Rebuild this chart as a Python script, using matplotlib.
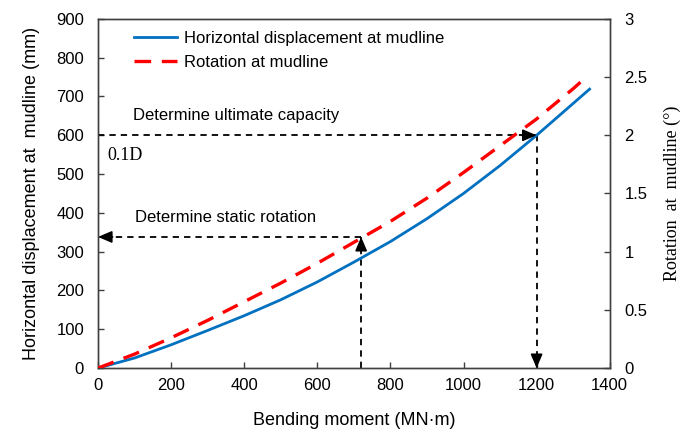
import matplotlib.pyplot as plt
import numpy as np

plt.rcParams['font.family'] = ['Liberation Sans', 'DejaVu Sans']
plt.rcParams['font.size'] = 12

# horizontal displacement at mudline (mm) vs bending moment (MN.m)
moment_disp = [0, 100, 200, 300, 400, 500, 600, 700, 800, 900, 1000, 1100, 1200, 1300, 1345]
disp = [0, 26, 60, 97, 135, 176, 222, 273, 326, 385, 450, 522, 600, 682, 719]

# rotation at mudline (deg)
moment_rot = [0, 100, 200, 300, 400, 500, 600, 700, 800, 900, 1000, 1100, 1200, 1300, 1325]
rot = [0, 0.12, 0.26, 0.41, 0.57, 0.73, 0.9, 1.08, 1.26, 1.46, 1.68, 1.91, 2.14, 2.4, 2.47]

# guide lines
m_ult, d_ult = 1200, 600
m_static, d_static = 720, 338

fig = plt.figure(figsize=(7, 4.29), dpi=100)
ax = fig.add_axes([0.14, 0.142, 0.731, 0.814])
ax2 = ax.twinx()

l1, = ax.plot(moment_disp, disp, color='#0070C0', lw=2.0, zorder=3,
              label='Horizontal displacement at mudline')
l2, = ax2.plot(moment_rot, rot, color='#FF0000', lw=2.4, dashes=(5, 3.2), zorder=3,
               label='Rotation at mudline')

dk = dict(color='black', lw=1.3, dashes=(3.5, 2.8), zorder=2)
ax.plot([0, m_ult], [d_ult, d_ult], **dk)
ax.plot([m_ult, m_ult], [d_ult, 0], **dk)
ax.plot([m_static, m_static], [0, d_static], **dk)
ax.plot([m_static, 0], [d_static, d_static], **dk)

ap = dict(arrowstyle='-|>,head_length=0.7,head_width=0.3', color='black', lw=1.2,
          shrinkA=0, shrinkB=0)
ax.annotate('', xy=(m_ult, d_ult), xytext=(m_ult - 40, d_ult), arrowprops=ap)
ax.annotate('', xy=(m_ult, 0), xytext=(m_ult, 30), arrowprops=ap, annotation_clip=False)
ax.annotate('', xy=(m_static, d_static), xytext=(m_static, d_static - 30), arrowprops=ap)
ax.annotate('', xy=(0, d_static), xytext=(40, d_static), arrowprops=ap, annotation_clip=False)

ax.text(96, 652, 'Determine ultimate capacity', fontsize=12, va='center')
ax.text(25, 549, '0.1D', fontsize=13, va='center', family='Liberation Serif')
ax.text(101, 387, 'Determine static rotation', fontsize=12, va='center')

ax.set_xlim(0, 1400)
ax.set_ylim(0, 900)
ax2.set_ylim(0, 3)
ax.set_xticks(np.arange(0, 1401, 200))
ax.set_yticks(np.arange(0, 901, 100))
ax2.set_yticks([0, 0.5, 1, 1.5, 2, 2.5, 3])
ax2.set_yticklabels(['0', '0.5', '1', '1.5', '2', '2.5', '3'])

for a in (ax, ax2):
    a.tick_params(direction='in', length=4, width=1, color='#404040', labelsize=12)
    for s in a.spines.values():
        s.set_color('#404040')
        s.set_linewidth(1)
ax.tick_params(axis='x', pad=7)
ax.tick_params(axis='y', pad=10)
ax2.tick_params(axis='y', pad=10.5)

ax.set_xlabel('Bending moment (MN\u00b7m)', fontsize=13, labelpad=14)
ax.set_ylabel('Horizontal displacement at  mudline (mm)', fontsize=13, labelpad=12)
ax2.set_ylabel('Rotation  at  mudline (\u00b0)', fontsize=13, family='Liberation Serif', labelpad=12)

ax.legend(handles=[l1, l2], loc='upper left', bbox_to_anchor=(0.057, 0.985), frameon=False,
          handlelength=2.6, handletextpad=0.4, labelspacing=0.55, fontsize=12, borderaxespad=0)

fig.savefig('out.png', dpi=100)
